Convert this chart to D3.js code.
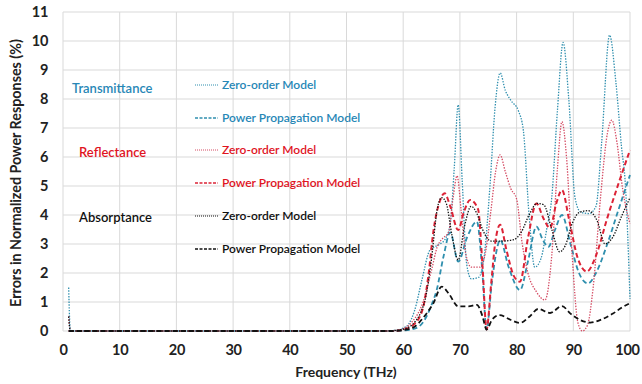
<!DOCTYPE html>
<html>
<head>
<meta charset="utf-8">
<script src="https://cdn.jsdelivr.net/npm/d3@7"></script>
<style>
  html, body { margin: 0; padding: 0; background: #fff; }
  svg { display: block; font-family: Lato, "Open Sans", sans-serif; }
</style>
</head>
<body>
<svg id="chart" width="642" height="384"></svg>
<script>
// Axis ticks
const xTicks = [0, 10, 20, 30, 40, 50, 60, 70, 80, 90, 100];
const yTicks = [0, 1, 2, 3, 4, 5, 6, 7, 8, 9, 10, 11];

// Error curves: [frequency (THz), error (%)]
const transZero = [[1,1.5],[1.3,0],[56,0],[59,0.03],[60,0.1],[61,0.25],[62,0.7],[63.3,1.76],[64.7,2.79],[65.5,2.9],[66.5,3.0],[67.5,3.2],[68.3,3.7],[69,5.6],[69.7,7.8],[70.4,5.2],[71.2,2.3],[72,1.8],[73.3,1.85],[74.3,2.6],[75.3,5.0],[76.2,7.7],[77.1,8.9],[78,8.3],[79,7.95],[80.3,7.6],[81.2,6.9],[82.2,4.0],[83.2,2.2],[84.3,2.5],[85.3,3.5],[86.2,4.6],[87.2,7.6],[88.2,9.95],[89.2,8.0],[90.3,4.6],[91.3,4.1],[92.8,4.05],[94,4.3],[95,6.5],[96.4,10.2],[97.5,8.6],[98.5,6.35],[99.2,5.0],[100,1.1]];
const transPower = [[1,0],[58,0],[60,0.02],[62,0.08],[63.5,0.3],[65,0.9],[65.9,1.41],[67.1,2.56],[68.3,3.4],[69.7,2.39],[71.3,3.25],[73,3.77],[73.9,2.2],[74.7,0.05],[75.6,1.6],[76.4,2.7],[77.1,3.14],[78.6,2.2],[80.6,1.41],[82,2.4],[83.5,3.6],[84.6,3.15],[85.6,2.9],[86.8,3.5],[88,4.0],[89.5,3.0],[91,2.0],[92.6,1.64],[94,2.0],[96,3.0],[98,4.2],[100,5.38]];
const reflZero = [[1,0.5],[1.3,0],[57,0],[59,0.03],[60,0.08],[61.5,0.3],[63.5,1.0],[65,2.1],[66,2.9],[67,3.2],[68,3.4],[68.8,4.6],[69.5,5.35],[70.2,4.2],[71,2.7],[72,2.2],[73.5,2.2],[74.5,2.7],[75.5,4.2],[76.3,5.5],[77.1,6.07],[78,5.5],[79,4.9],[80,4.55],[81,3.0],[82,2.0],[83.5,1.35],[85,1.07],[86.2,2.6],[87.2,5.6],[88,7.22],[88.8,6.0],[89.8,2.6],[90.8,0.3],[91.6,0.0],[92.5,0.2],[93.5,1.5],[94.8,4.6],[96,6.8],[96.8,7.27],[97.7,6.5],[98.7,4.9],[100,3.7]];
const reflPower = [[1,0],[58,0],[60,0.05],[62,0.25],[63.5,0.8],[64.5,2.0],[65.3,3.4],[66.5,4.5],[67.3,4.75],[68.3,4.3],[69.7,3.48],[70.7,4.1],[71.8,4.52],[73.2,4.2],[74,2.2],[74.7,0.05],[75.5,1.6],[76.2,3.0],[77.1,3.66],[78.2,2.8],[79.5,1.9],[80.6,1.7],[82,3.2],[83.5,4.4],[84.7,3.9],[85.9,3.55],[87,4.4],[88,4.86],[89.3,3.8],[90.8,2.5],[92.4,2.05],[94,2.6],[96,3.9],[98,5.1],[100,6.24]];
const absZero = [[1,0.5],[1.3,0],[57,0],[59,0.03],[60,0.06],[62,0.3],[63,0.6],[64,1.2],[65,2.5],[66,4.2],[66.8,4.6],[67.6,4.4],[68.6,3.3],[69.7,2.45],[70.8,3.6],[72,4.3],[73,4.05],[74,3.5],[75.5,3.1],[77.5,3.1],[79.5,3.15],[80.8,3.4],[82.2,4.0],[83.6,4.4],[84.8,4.35],[86.2,3.5],[87.6,2.73],[88.6,2.95],[89.8,3.7],[91,4.08],[92.6,4.15],[94.2,3.8],[95.6,3.0],[97,3.25],[98.5,3.95],[100,4.6]];
const absPower = [[1,0],[58,0],[60,0.03],[62,0.15],[63.5,0.45],[65.3,0.95],[66.8,1.53],[68,1.3],[69.7,0.85],[71.5,0.85],[73,0.9],[74,0.5],[74.7,0.05],[75.7,0.4],[77,0.55],[79,0.38],[80.6,0.28],[82.3,0.5],[83.8,0.76],[85.9,0.62],[88,0.86],[89.5,0.6],[91.2,0.38],[93,0.29],[95,0.4],[97,0.6],[98.5,0.8],[100,0.96]];

// Legend groups and entries
const groupNames = ["Transmittance", "Reflectance", "Absorptance"];
const modelNames = ["Zero-order Model", "Power Propagation Model"];

const teal = "#2f8fae", red = "#dc2336", black = "#111111";
const textColors = ["#2787b6", "#e0141f", "#111111"];

const series = [
  { data: transZero,  color: teal,  dash: "1.4,1.4", width: 1.3 },
  { data: transPower, color: teal,  dash: "5,3",     width: 1.8 },
  { data: reflZero,   color: "#d44a62", dash: "1.4,1.4", width: 1.3 },
  { data: reflPower,  color: red,   dash: "5,3",     width: 2.0 },
  { data: absZero,    color: black, dash: "1.4,1.4", width: 1.3 },
  { data: absPower,   color: black, dash: "5,3",     width: 1.8 }
];

const svg = d3.select("#chart");
const margin = { left: 63, right: 12, top: 12, bottom: 53 };
const W = 642, H = 384;

const x = d3.scaleLinear().domain([0, 100]).range([margin.left, W - margin.right]);
const y = d3.scaleLinear().domain([0, 11]).range([H - margin.bottom, margin.top]);

// Gridlines
const grid = svg.append("g");
grid.selectAll("line.h").data(yTicks).join("line")
  .attr("x1", x(0)).attr("x2", x(100))
  .attr("y1", d => y(d)).attr("y2", d => y(d))
  .attr("stroke", "#d9d9d9").attr("stroke-width", 1);
grid.selectAll("line.v").data(xTicks).join("line")
  .attr("y1", y(0)).attr("y2", y(11))
  .attr("x1", d => x(d)).attr("x2", d => x(d))
  .attr("stroke", "#d9d9d9").attr("stroke-width", 1);

// Axes (labels only; grid carries the lines)
const xAxis = svg.append("g").attr("transform", `translate(0,${y(0)})`)
  .call(d3.axisBottom(x).tickValues(xTicks).tickSize(0).tickPadding(14));
const yAxis = svg.append("g").attr("transform", `translate(${x(0)},0)`)
  .call(d3.axisLeft(y).tickValues(yTicks).tickSize(0).tickPadding(15));
[xAxis, yAxis].forEach(a => {
  a.select(".domain").remove();
  a.selectAll("text").attr("font-family", "Lato, sans-serif")
    .attr("font-size", 14.5).attr("font-weight", "bold").attr("fill", "#222")
    .attr("letter-spacing", -0.3);
});
// keep the last frequency label inside the frame
xAxis.selectAll(".tick text").filter(d => d === 100).attr("dx", -3);

// Axis titles
svg.append("text").attr("x", 346).attr("y", 377).attr("text-anchor", "middle")
  .attr("font-size", 14).attr("font-weight", "bold").attr("fill", "#222")
  .text("Frequency (THz)");
svg.append("text").attr("transform", "translate(21,173) rotate(-90)")
  .attr("text-anchor", "middle").attr("font-size", 14.3).attr("font-weight", "bold")
  .attr("fill", "#222").text("Errors in Normalized Power Responses (%)");

// Curves
const line = d3.line().x(d => x(d[0])).y(d => y(d[1])).curve(d3.curveMonotoneX);
svg.append("g").selectAll("path").data(series).join("path")
  .attr("d", d => line(d.data))
  .attr("fill", "none")
  .attr("stroke", d => d.color)
  .attr("stroke-width", d => d.width)
  .attr("stroke-dasharray", d => d.dash);

// Legend
const legend = svg.append("g");
const groupY = [88, 152, 217];
const groupX = [72, 79, 79];
groupNames.forEach((g, i) => {
  legend.append("text").attr("x", groupX[i]).attr("y", groupY[i]).attr("dy", "0.35em")
    .attr("font-size", 13).attr("font-weight", 600).attr("fill", textColors[i]).text(g);
});
const rowY = [85, 118, 150, 183, 216, 249];
series.forEach((s, i) => {
  const gi = Math.floor(i / 2);
  legend.append("line").attr("x1", 195).attr("x2", 218)
    .attr("y1", rowY[i]).attr("y2", rowY[i])
    .attr("stroke", s.color).attr("stroke-width", i % 2 ? 1.4 : 1)
    .attr("stroke-dasharray", i % 2 ? "3,1.5" : "1,1");
  legend.append("text").attr("x", 222).attr("y", rowY[i]).attr("dy", "0.35em")
    .attr("font-size", 12).attr("font-weight", 600).attr("fill", textColors[gi])
    .text(modelNames[i % 2]);
});
</script>
</body>
</html>
